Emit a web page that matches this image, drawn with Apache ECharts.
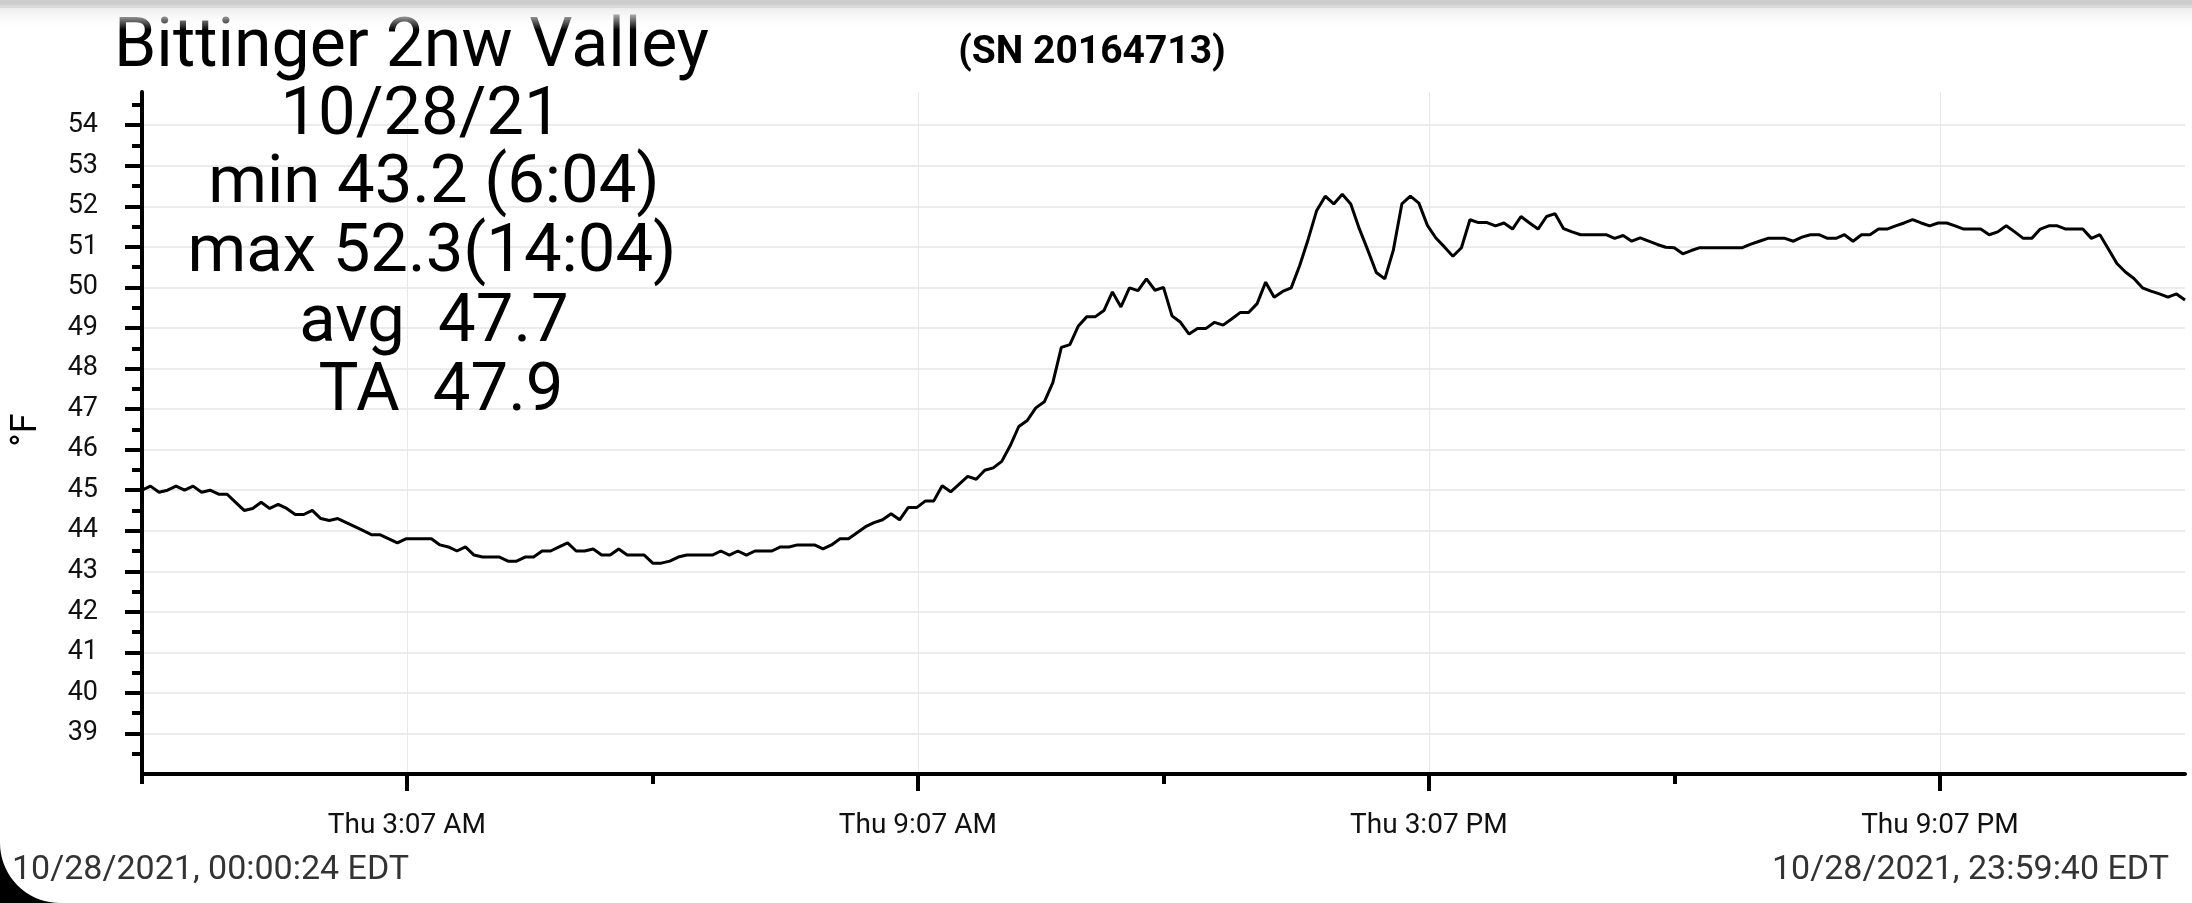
<!DOCTYPE html>
<html>
<head>
<meta charset="utf-8">
<script src="https://cdn.jsdelivr.net/npm/echarts@6/dist/echarts.min.js"></script>
<style>
  html, body { margin: 0; padding: 0; background: #ffffff; }
  #chart { width: 2192px; height: 903px; }
</style>
</head>
<body>
<div id="chart"></div>
<script>
// ---- data ----
const siteTitle = 'Bittinger 2nw Valley';
const serialText = '(SN 20164713)';
const statLines = ['10/28/21', 'min 43.2 (6:04)', 'max 52.3(14:04)', 'avg  47.7', 'TA  47.9'];
const startLabel = '10/28/2021, 00:00:24 EDT';
const endLabel = '10/28/2021, 23:59:40 EDT';
const yAxisTitle = '°F';

// time range in hours after midnight
const startHour = 24 / 3600;                 // 00:00:24
const endHour = 23 + 59 / 60 + 40 / 3600;    // 23:59:40

// x axis ticks
const majorTickHours = [3 + 7 / 60, 9 + 7 / 60, 15 + 7 / 60, 21 + 7 / 60];
const majorTickLabels = ['Thu 3:07 AM', 'Thu 9:07 AM', 'Thu 3:07 PM', 'Thu 9:07 PM'];
const minorTickHours = [startHour, 6, 12, 18];

// y axis ticks
const yMin = 38;
const yMax = 54.82;
const yMajorTicks = [39, 40, 41, 42, 43, 44, 45, 46, 47, 48, 49, 50, 51, 52, 53, 54];
const yMinorTicks = [38.5, 39.5, 40.5, 41.5, 42.5, 43.5, 44.5, 45.5, 46.5, 47.5, 48.5, 49.5, 50.5, 51.5, 52.5, 53.5, 54.5];

// temperature samples (°F), evenly spaced from 00:00:24 to 23:59:40
const tempF = [
  45.0, 45.1, 44.95, 45.0, 45.1, 45.0, 45.1, 44.95, 45.0, 44.9,
  44.9, 44.7, 44.5, 44.55, 44.7, 44.55, 44.65, 44.55, 44.4, 44.4,
  44.5, 44.3, 44.25, 44.3, 44.2, 44.1, 44.0, 43.9, 43.9, 43.8,
  43.7, 43.8, 43.8, 43.8, 43.8, 43.65, 43.6, 43.5, 43.6, 43.4,
  43.35, 43.35, 43.35, 43.25, 43.25, 43.35, 43.35, 43.5, 43.5, 43.6,
  43.7, 43.5, 43.5, 43.55, 43.4, 43.4, 43.55, 43.4, 43.4, 43.4,
  43.2, 43.2, 43.25, 43.35, 43.4, 43.4, 43.4, 43.4, 43.5, 43.4,
  43.5, 43.4, 43.5, 43.5, 43.5, 43.6, 43.6, 43.65, 43.65, 43.65,
  43.55, 43.65, 43.8, 43.8, 43.95, 44.1, 44.2, 44.27, 44.42, 44.27,
  44.57, 44.57, 44.73, 44.73, 45.11, 44.96, 45.15, 45.34, 45.27, 45.49,
  45.55, 45.71, 46.1, 46.57, 46.72, 47.03, 47.18, 47.65, 48.52, 48.59,
  49.05, 49.28, 49.28, 49.43, 49.89, 49.52, 49.99, 49.92, 50.21, 49.93,
  50.0, 49.3, 49.14, 48.85, 48.99, 48.99, 49.14, 49.07, 49.22, 49.38,
  49.38, 49.6, 50.13, 49.76, 49.9, 49.99, 50.54, 51.19, 51.9, 52.25,
  52.06, 52.3, 52.06, 51.45, 50.92, 50.37, 50.21, 50.92, 52.06, 52.25,
  52.08, 51.53, 51.22, 51.0, 50.77, 50.98, 51.67, 51.6, 51.6, 51.52,
  51.59, 51.44, 51.75, 51.59, 51.44, 51.75, 51.82, 51.45, 51.37, 51.3,
  51.3, 51.3, 51.3, 51.21, 51.28, 51.14, 51.22, 51.14, 51.06, 50.99,
  50.98, 50.83, 50.91, 50.98, 50.98, 50.98, 50.98, 50.98, 50.98, 51.07,
  51.14, 51.21, 51.21, 51.21, 51.14, 51.24, 51.3, 51.3, 51.21, 51.21,
  51.3, 51.14, 51.3, 51.3, 51.44, 51.44, 51.52, 51.59, 51.67, 51.59,
  51.52, 51.59, 51.59, 51.52, 51.44, 51.44, 51.44, 51.3, 51.37, 51.52,
  51.37, 51.21, 51.21, 51.44, 51.52, 51.52, 51.44, 51.44, 51.44, 51.21,
  51.3, 50.95, 50.59, 50.38, 50.22, 49.99, 49.91, 49.84, 49.76, 49.84,
  49.69
];

// ---- build ----
const step = (endHour - startHour) / (tempF.length - 1);
const seriesData = tempF.map((v, i) => [startHour + i * step, v]);

const FONT = 'Roboto, "Noto Sans", sans-serif';

function labelFor(v) {
  let best = 0;
  for (let i = 1; i < majorTickHours.length; i++) {
    if (Math.abs(majorTickHours[i] - v) < Math.abs(majorTickHours[best] - v)) best = i;
  }
  return majorTickLabels[best];
}

// screen-corner mask (decorative, bottom-left rounded corner)
const cornerR = 60;
const cornerPts = [[0, 903]];
for (let a = 0; a <= 90; a += 5) {
  const r = a * Math.PI / 180;
  cornerPts.push([cornerR - cornerR * Math.cos(r), 903 - cornerR + cornerR * Math.sin(r)]);
}

const statX = [421, 434, 432, 434, 441];
const statBase = [136, 204, 273, 343, 412];
const BASE_K = 0.28;

const graphics = [
  { type: 'rect', shape: { x: 0, y: 0, width: 2192, height: 5 }, style: { fill: '#cdcdcd' }, silent: true, z: 100 },
  { type: 'rect', shape: { x: 0, y: 5, width: 2192, height: 3 }, style: { fill: '#dadada' }, silent: true, z: 100 },
  { type: 'rect', shape: { x: 0, y: 8, width: 2192, height: 22 },
    style: { fill: new echarts.graphic.LinearGradient(0, 0, 0, 1, [{ offset: 0, color: '#ececec' }, { offset: 1, color: 'rgba(255,255,255,0)' }]) },
    silent: true, z: 100 },
  { type: 'text', x: 114, y: 68 - BASE_K * 68, style: { text: siteTitle, font: '68px ' + FONT, fill: '#000', textAlign: 'left', textVerticalAlign: 'middle' }, z: 50 },
  { type: 'text', x: 1092, y: 64 - BASE_K * 39, style: { text: serialText, font: 'bold 39px ' + FONT, fill: '#000', textAlign: 'center', textVerticalAlign: 'middle' }, z: 50 },
  { type: 'text', x: 27, y: 430, rotation: Math.PI / 2, style: { text: yAxisTitle, font: '36px ' + FONT, fill: '#000', textAlign: 'center', textVerticalAlign: 'middle' }, z: 50 },
  { type: 'text', x: 12, y: 880 - BASE_K * 34, style: { text: startLabel, font: '34px ' + FONT, fill: '#333', textAlign: 'left', textVerticalAlign: 'middle' }, z: 50 },
  { type: 'text', x: 2169, y: 880 - BASE_K * 34, style: { text: endLabel, font: '34px ' + FONT, fill: '#333', textAlign: 'right', textVerticalAlign: 'middle' }, z: 50 },
  { type: 'polygon', shape: { points: cornerPts }, style: { fill: '#000' }, silent: true, z: 100 }
];
statLines.forEach((t, i) => {
  graphics.push({ type: 'text', x: statX[i], y: statBase[i] - BASE_K * 67,
    style: { text: t, font: '67px ' + FONT, fill: '#000', textAlign: 'center', textVerticalAlign: 'middle' }, z: 50 });
});

const chart = echarts.init(document.getElementById('chart'), null, { renderer: 'canvas' });
chart.setOption({
  animation: false,
  backgroundColor: '#ffffff',
  grid: { left: 142, right: 7, top: 92, bottom: 129, containLabel: false },
  xAxis: [
    {
      type: 'value', min: startHour, max: endHour, position: 'bottom',
      axisLine: { show: true, onZero: false, lineStyle: { color: '#000', width: 4 } },
      axisTick: { show: true, customValues: majorTickHours, length: 17, lineStyle: { color: '#000', width: 4 } },
      axisLabel: { show: true, customValues: majorTickHours, formatter: labelFor, margin: 38,
        color: '#111', fontSize: 28, fontFamily: FONT },
      splitLine: { show: true, lineStyle: { color: '#e8e8e8', width: 1 } }
    },
    {
      type: 'value', min: startHour, max: endHour, position: 'bottom', gridIndex: 0,
      axisLine: { show: false },
      axisTick: { show: true, customValues: minorTickHours, length: 10, lineStyle: { color: '#000', width: 4 } },
      axisLabel: { show: false },
      splitLine: { show: false }
    }
  ],
  yAxis: [
    {
      type: 'value', min: yMin, max: yMax, position: 'left',
      axisLine: { show: true, onZero: false, lineStyle: { color: '#000', width: 4 } },
      axisTick: { show: true, customValues: yMajorTicks, length: 17, lineStyle: { color: '#000', width: 4 } },
      axisLabel: { show: true, customValues: yMajorTicks, margin: 44, color: '#111', fontSize: 27, fontFamily: FONT },
      splitLine: { show: true, lineStyle: { color: '#e6e6e6', width: 1.5 } }
    },
    {
      type: 'value', min: yMin, max: yMax, position: 'left', gridIndex: 0,
      axisLine: { show: false },
      axisTick: { show: true, customValues: yMinorTicks, length: 10, lineStyle: { color: '#000', width: 4 } },
      axisLabel: { show: false },
      splitLine: { show: false }
    }
  ],
  series: [{
    type: 'line',
    xAxisIndex: 0,
    yAxisIndex: 0,
    data: seriesData,
    showSymbol: false,
    symbol: 'none',
    lineStyle: { color: '#000', width: 3 },
    clip: true,
    z: 10
  }],
  graphic: graphics
});
</script>
</body>
</html>
